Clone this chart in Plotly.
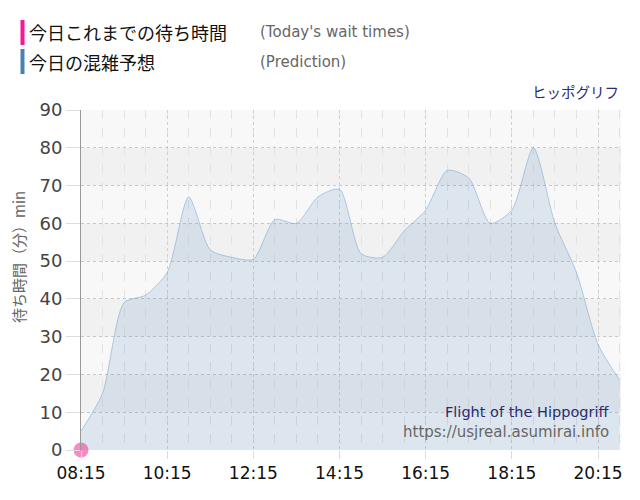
import plotly.graph_objects as go

# prediction, every 30 minutes from 08:15
times = ['08:15', '08:45', '09:15', '09:45', '10:15', '10:45', '11:15', '11:45',
         '12:15', '12:45', '13:15', '13:45', '14:15', '14:45', '15:15', '15:45',
         '16:15', '16:45', '17:15', '17:45', '18:15', '18:45', '19:15', '19:45',
         '20:15', '20:45']
predicted = [5, 15, 39, 41, 47, 67, 53, 51, 50.5, 61, 60, 67, 69, 52, 51, 58,
             63.5, 74, 72, 60, 63.5, 80, 60, 47, 28, 18.5]

# today's actual waits so far
actual_times = ['08:15']
actual = [0]

tick_labels = ['08:15', '10:15', '12:15', '14:15', '16:15', '18:15', '20:15']

DAY = '2024-01-01 '
x_pred = [DAY + t for t in times]
x_act = [DAY + t for t in actual_times]

fig = go.Figure()

fig.add_trace(go.Scatter(
    x=x_pred, y=predicted,
    mode='lines',
    line=dict(color='rgba(100,150,195,0.45)', width=1, shape='spline', smoothing=0.7),
    fill='tozeroy',
    fillcolor='rgba(70,130,180,0.15)',
    hoverinfo='skip',
    showlegend=False,
))

fig.add_trace(go.Scatter(
    x=x_act, y=actual,
    mode='markers',
    marker=dict(color='rgba(240,90,170,0.7)', size=15),
    cliponaxis=False,
    showlegend=False,
))

# alternating horizontal bands
for lo in [10, 30, 50, 70]:
    fig.add_shape(type='rect', xref='paper', yref='y', x0=0, x1=1, y0=lo, y1=lo + 10,
                  fillcolor='#f1f1f1', line_width=0, layer='below')

# page body has an 8px margin, so the margins are offset by 8px
fig.update_layout(
    width=640, height=500, autosize=False,
    margin=dict(l=73, r=27, t=102, b=58),
    paper_bgcolor='white',
    plot_bgcolor='#f8f8f8',
    font=dict(family='DejaVu Sans', color='#444'),
)

fig.update_xaxes(
    type='date',
    range=[DAY + '08:15', DAY + '20:47'],
    tickvals=[DAY + t for t in tick_labels],
    ticktext=tick_labels,
    tickfont=dict(size=17, color='#111'),
    ticks='outside', ticklen=8, tickcolor='#dddddd',
    showgrid=True, gridcolor='#d0d0d0', griddash='dot', gridwidth=1,
    minor=dict(dtick=1800000, tick0=DAY + '08:15', showgrid=True,
               gridcolor='#e2e2e2', griddash='dash', gridwidth=1),
    zeroline=False, showline=False,
)

fig.update_yaxes(
    range=[0, 90], dtick=10,
    tickfont=dict(size=18, color='#444'),
    ticks='outside', ticklen=14, tickcolor='#dddddd',
    showgrid=True, gridcolor='#c8c8c8', griddash='dot', gridwidth=1,
    showline=True, linecolor='#999999', linewidth=1,
    zeroline=False,
)

# custom legend and labels (positions in screen px, converted to paper coords)
def px(x):
    return (x - 81) / 540

def py(y):
    return (450 - y) / 340

fig.add_annotation(x=px(18), y=py(257), xref='paper', yref='paper',
                   text='待ち時間（分）min', showarrow=False, textangle=-90,
                   xanchor='center', yanchor='middle',
                   font=dict(size=15, color='#666', family='Noto Sans CJK JP'))

legend_rows = [
    ('#ff1493', '今日これまでの待ち時間', "(Today's wait times)", 32.5),
    ('#4682b4', '今日の混雑予想', '(Prediction)', 61.5),
]
for color, jp, en, ypx in legend_rows:
    fig.add_shape(type='rect', xref='paper', yref='paper',
                  x0=px(20.5), x1=px(24.5), y0=py(ypx + 12.5), y1=py(ypx - 12.5),
                  fillcolor=color, line_width=0)
    fig.add_annotation(x=px(27), y=py(ypx), xref='paper', yref='paper',
                       text=jp, showarrow=False, xanchor='left', yanchor='middle',
                       font=dict(size=18, color='#111', family='Noto Sans CJK JP'))
    fig.add_annotation(x=px(258), y=py(ypx), xref='paper', yref='paper',
                       text=en, showarrow=False, xanchor='left', yanchor='middle',
                       font=dict(size=15, color='#666', family='DejaVu Sans'))

fig.add_annotation(x=px(621), y=py(92), xref='paper', yref='paper',
                   text='ヒッポグリフ', showarrow=False, xanchor='right', yanchor='middle',
                   font=dict(size=14.5, color='#2b2b70', family='Noto Sans CJK JP'))
fig.add_annotation(x=px(611), y=py(411.5), xref='paper', yref='paper',
                   text='Flight of the Hippogriff', showarrow=False, xanchor='right',
                   yanchor='middle', font=dict(size=14.5, color='#2b2b70'))
fig.add_annotation(x=px(611), y=py(431.5), xref='paper', yref='paper',
                   text='https://usjreal.asumirai.info', showarrow=False, xanchor='right',
                   yanchor='middle', font=dict(size=15, color='#666'))

fig.write_html("out.html")
